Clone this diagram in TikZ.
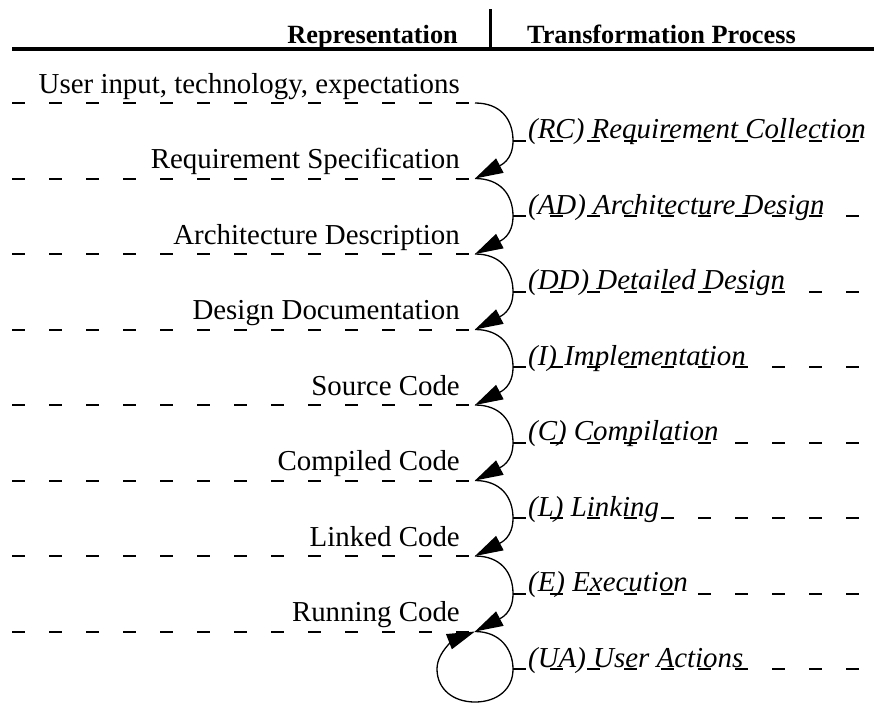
\documentclass[tikz,border=0pt]{standalone}
\usepackage{fontspec}
\setmainfont{Liberation Serif}
\usetikzlibrary{arrows.meta}
\begin{document}
\begin{tikzpicture}[x=1pt,y=-1pt,
  dline/.style={line width=2pt, dash pattern=on 13pt off 24pt},
  flow/.style={line width=1.3pt, -{Triangle[length=28pt,width=16pt]}},
  ltext/.style={anchor=base east, inner sep=0pt, font=\fontsize{28.9}{30}\selectfont},
  rtext/.style={anchor=base west, inner sep=0pt, font=\fontsize{28.9}{30}\selectfont\itshape},
  htext/.style={inner sep=0pt, font=\fontsize{26.3}{28}\selectfont\bfseries},
  rule/.style={line width=4pt}]
\useasboundingbox (0,0) rectangle (874,704);
% header
\coordinate (hl) at (12,49);
\coordinate (hr) at (874,49);
\coordinate (vt) at (490,9);
\coordinate (vb) at (490,50);
\draw[rule] (hl) -- (hr);
\draw[line width=3pt] (vt) -- (vb);
\node[htext, anchor=base east] (rep) at (458,43) {Representation};
\node[htext, anchor=base west] (tp) at (527,43) {Transformation Process};
% representations
\foreach \i/\txt in {0/{User input, technology, expectations},
                     1/{Requirement Specification},
                     2/{Architecture Description},
                     3/{Design Documentation},
                     4/{Source Code},
                     5/{Compiled Code},
                     6/{Linked Code},
                     7/{Running Code}} {
  \pgfmathsetmacro\yy{103+75.5*\i}
  \coordinate (s\i) at (12,\yy);
  \coordinate (j\i) at (475,\yy);
  \draw[dline] (s\i) -- (j\i);
  \node[ltext] (L\i) at (460,\yy-10) {\txt};
}
% processes
\foreach \i/\txt in {0/{(RC) Requirement Collection},
                     1/{(AD) Architecture Design},
                     2/{(DD) Detailed Design},
                     3/{(I) Implementation},
                     4/{(C) Compilation},
                     5/{(L) Linking},
                     6/{(E) Execution},
                     7/{(UA) User Actions}} {
  \pgfmathsetmacro\mm{103+75.5*\i+37.75}
  \coordinate (r\i) at (513,\mm);
  \coordinate (e\i) at (874,\mm);
  \draw[dline] (r\i) -- (e\i);
  \node[rtext] (P\i) at (528,\mm-2) {\txt};
}
% transformation curves
\foreach \i in {0,...,6} {
  \pgfmathtruncatemacro\nx{\i+1}
  \draw[flow] (j\i) .. controls +(25,0) and +(0,-22) .. (r\i)
              .. controls +(0,20) and +(25,-13) .. (j\nx);
}
% user actions loop
\coordinate (bot) at (475,702);
\coordinate (lft) at (437,669);
\draw[flow] (j7) .. controls +(25,0) and +(0,-20) .. (r7)
            .. controls +(0,20) and +(22,0) .. (bot)
            .. controls +(-22,0) and +(0,20) .. (lft)
            .. controls +(0,-18) and +(-18,7) .. (j7);
\end{tikzpicture}
\end{document}
